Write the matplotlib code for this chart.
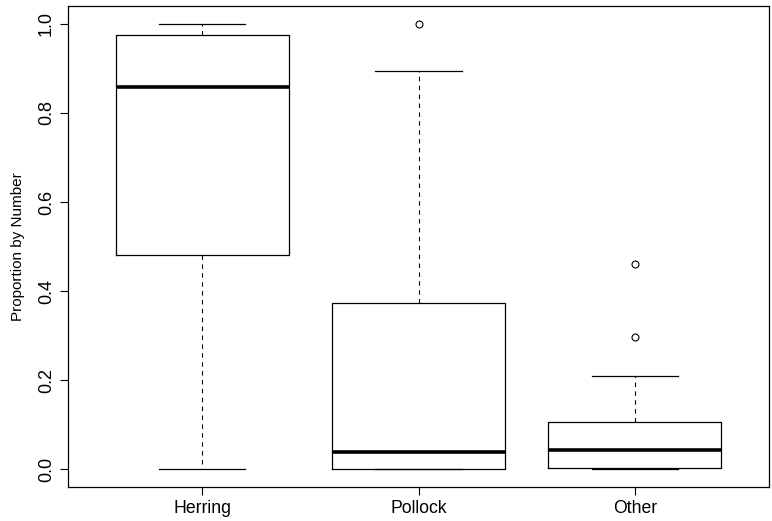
import matplotlib
matplotlib.use("Agg")
import matplotlib.pyplot as plt

# summary stats for each prey group (proportion by number)
groups = ["Herring", "Pollock", "Other"]
whislo = [0.0, 0.0, 0.0]
q1 = [0.482, 0.0, 0.002]
med = [0.858, 0.038, 0.042]
q3 = [0.975, 0.374, 0.106]
whishi = [1.0, 0.893, 0.209]
fliers = [[], [1.0], [0.296, 0.460]]

plt.rcParams['font.family'] = ['Liberation Sans', 'DejaVu Sans']

stats = []
for i in range(len(groups)):
    stats.append({'label': groups[i], 'whislo': whislo[i], 'q1': q1[i],
                  'med': med[i], 'q3': q3[i], 'whishi': whishi[i],
                  'fliers': fliers[i]})

fig = plt.figure(figsize=(7.72, 5.21), dpi=100)
ax = fig.add_axes([68/772, 34/521, 701/772, 481/521])

ax.bxp(stats, positions=[1, 2, 3], widths=0.8, showfliers=True,
       boxprops=dict(color='black', linewidth=0.9),
       medianprops=dict(color='black', linewidth=2.6, solid_capstyle='butt'),
       whiskerprops=dict(color='black', linewidth=0.8, linestyle=(0, (4, 4))),
       capprops=dict(color='black', linewidth=0.9),
       capwidths=0.4,
       flierprops=dict(marker='o', markersize=5, markerfacecolor='none',
                       markeredgecolor='black', markeredgewidth=0.8))

ax.set_xlim(0.38, 3.62)
ax.set_ylim(-0.04, 1.04)
ax.set_yticks([0.0, 0.2, 0.4, 0.6, 0.8, 1.0])
ax.set_yticklabels(["0.0", "0.2", "0.4", "0.6", "0.8", "1.0"], rotation=90,
                   va='center', fontsize=13)
ax.set_xticks([1, 2, 3])
ax.set_xticklabels(groups, fontsize=12.7)
ax.tick_params(axis='both', length=5.5, width=0.8, color='black', pad=4)
ax.set_ylabel("Proportion by Number", fontsize=11, labelpad=9)

for s in ax.spines.values():
    s.set_linewidth(0.9)

fig.savefig("out.png", dpi=100)
